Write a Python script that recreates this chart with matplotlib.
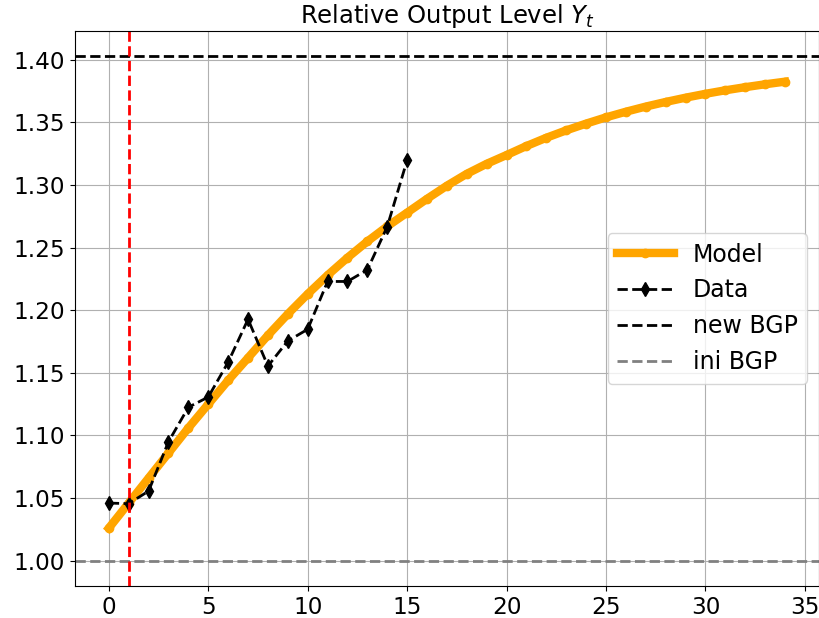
import matplotlib
matplotlib.use("Agg")
import matplotlib.pyplot as plt
import numpy as np

# model path (periods 0..34)
t_model = np.arange(35)
y_model = [1.026, 1.046, 1.066, 1.086, 1.106, 1.125, 1.144, 1.162, 1.180, 1.197,
           1.213, 1.228, 1.242, 1.255, 1.267, 1.278, 1.289, 1.2995, 1.309, 1.317,
           1.324, 1.3312, 1.3378, 1.3437, 1.3491, 1.3541, 1.3586, 1.3627, 1.3664, 1.3698,
           1.3729, 1.3757, 1.3782, 1.3805, 1.3826]

# data (periods 0..15)
t_data = np.arange(16)
y_data = [1.046, 1.0455, 1.0556, 1.095, 1.1225, 1.1307, 1.1585, 1.1928,
          1.1554, 1.1755, 1.1848, 1.223, 1.223, 1.2323, 1.2668, 1.3199]

new_bgp = 1.403
ini_bgp = 1.0
shock_t = 1

fig = plt.figure(figsize=(8.2, 6.18), dpi=100)
ax = fig.add_axes([0.0915, 0.052, 0.907, 0.898])

ax.plot(t_model, y_model, color='orange', lw=6, marker='o', ms=6, label='Model')
ax.plot(t_data, y_data, 'k--', marker='d', ms=7, lw=2, label='Data')
ax.axhline(new_bgp, color='k', ls='--', lw=2, label='new BGP')
ax.axhline(ini_bgp, color='gray', ls='--', lw=2, label='ini BGP')
ax.axvline(shock_t, color='red', ls='--', lw=2)

ax.grid(True)
ax.set_title('Relative Output Level $Y_t$', fontsize=17.5)
ax.tick_params(labelsize=16.7)
ax.set_yticks(np.arange(1.0, 1.41, 0.05))
ax.legend(loc='center right', fontsize=17, handlelength=2.4)

fig.savefig('out.png', dpi=100)
